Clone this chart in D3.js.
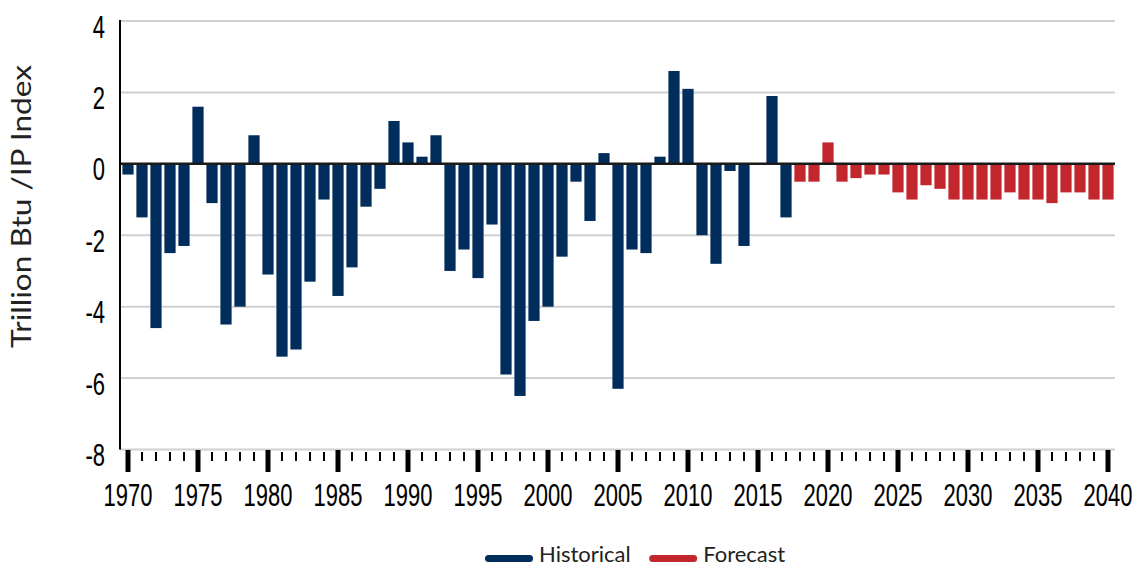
<!DOCTYPE html>
<html>
<head>
<meta charset="utf-8">
<script src="https://cdn.jsdelivr.net/npm/d3@7/dist/d3.min.js"></script>
<style>
  html, body { margin: 0; padding: 0; background: #fff; }
  svg { display: block; }
</style>
</head>
<body>
<svg id="chart" width="1138" height="567"></svg>
<script>
// ---- data ----
const histYears = d3.range(1970, 2018);
const histValues = [
  -0.3, -1.5, -4.6, -2.5, -2.3, 1.6, -1.1, -4.5, -4.0, 0.8,
  -3.1, -5.4, -5.2, -3.3, -1.0, -3.7, -2.9, -1.2, -0.7, 1.2,
  0.6, 0.2, 0.8, -3.0, -2.4, -3.2, -1.7, -5.9, -6.5, -4.4,
  -4.0, -2.6, -0.5, -1.6, 0.3, -6.3, -2.4, -2.5, 0.2, 2.6,
  2.1, -2.0, -2.8, -0.2, -2.3, 0.0, 1.9, -1.5
];
const fcYears = d3.range(2018, 2041);
const fcValues = [
  -0.5, -0.5, 0.6, -0.5, -0.4, -0.3, -0.3, -0.8, -1.0, -0.6,
  -0.7, -1.0, -1.0, -1.0, -1.0, -0.8, -1.0, -1.0, -1.1, -0.8,
  -0.8, -1.0, -1.0
];
const yTicks = [4, 2, 0, -2, -4, -6, -8];
const xLabelYears = d3.range(1970, 2041, 5);
const seriesNames = ["Historical", "Forecast"];
const seriesColors = ["#002d5c", "#c1272d"];
const yTitle = "Trillion Btu /IP Index";

// ---- chart ----
(function () {
const svg = d3.select("#chart");
const plotLeft = 120, plotRight = 1115, plotTop = 21, plotBottom = 449.5;
const axisFont = "'Liberation Sans', Arial, sans-serif";
const narrow = "scale(0.72,1)";

const allYears = d3.range(1970, 2041);
const x = d3.scaleBand().domain(allYears).range([121, 1115]).paddingInner(0.2).paddingOuter(0.1);
const y = d3.scaleLinear().domain([-8, 4]).range([plotBottom, plotTop]);

// gridlines
svg.append("g").selectAll("line")
  .data(yTicks.filter(d => d !== 0))
  .join("line")
  .attr("x1", plotLeft).attr("x2", plotRight)
  .attr("y1", d => y(d)).attr("y2", d => y(d))
  .attr("stroke", "#d0d0d0").attr("stroke-width", 2);

// bars
const barData = histYears.map((yr, i) => ({ year: yr, value: histValues[i], s: 0 }))
  .concat(fcYears.map((yr, i) => ({ year: yr, value: fcValues[i], s: 1 })));

svg.append("g").selectAll("rect")
  .data(barData)
  .join("rect")
  .attr("x", d => x(d.year))
  .attr("width", x.bandwidth())
  .attr("y", d => Math.min(y(d.value), y(0)))
  .attr("height", d => Math.abs(y(d.value) - y(0)))
  .attr("fill", d => seriesColors[d.s]);

// zero line
svg.append("line")
  .attr("x1", plotLeft).attr("x2", plotRight)
  .attr("y1", y(0)).attr("y2", y(0))
  .attr("stroke", "#1a1a1a").attr("stroke-width", 2.5);

// y axis line
svg.append("line")
  .attr("x1", plotLeft).attr("x2", plotLeft)
  .attr("y1", plotTop - 1).attr("y2", plotBottom)
  .attr("stroke", "#000").attr("stroke-width", 2);

// y tick labels
const yAxis = d3.axisLeft(y).tickValues(yTicks).tickSize(0).tickPadding(0).tickFormat(d => String(d));
const yg = svg.append("g").attr("transform", "translate(105,0)").call(yAxis);
yg.select(".domain").remove();
yg.selectAll("text")
  .attr("font-family", axisFont)
  .attr("font-size", 30.5).attr("fill", "#000")
  .attr("stroke", "#000").attr("stroke-width", 0.12)
  .attr("dy", null)
  .attr("y", 16).attr("x", 0).attr("text-anchor", "end")
  .attr("transform", narrow);

// x ticks (major every 5 years, minor every year)
const cx = d => x(d) + x.bandwidth() / 2;
svg.append("g").selectAll("line")
  .data(allYears)
  .join("line")
  .attr("x1", cx).attr("x2", cx)
  .attr("y1", d => d % 5 === 0 ? 450 : 452)
  .attr("y2", d => d % 5 === 0 ? 472 : 461)
  .attr("stroke", "#000")
  .attr("stroke-width", d => d % 5 === 0 ? 5 : 2);

// x tick labels
const xAxis = d3.axisBottom(x).tickValues(xLabelYears).tickSize(0).tickPadding(0).tickFormat(d => String(d));
const xg = svg.append("g").call(xAxis);
xg.select(".domain").remove();
xg.selectAll("text")
  .attr("font-family", axisFont)
  .attr("font-size", 30.5).attr("fill", "#000")
  .attr("stroke", "#000").attr("stroke-width", 0.12)
  .attr("dy", null).attr("y", 506)
  .attr("transform", narrow);

// y title
svg.append("text")
  .attr("transform", "translate(31,206.5) rotate(-90)")
  .attr("text-anchor", "middle")
  .attr("font-family", "Lato, 'Noto Sans', sans-serif")
  .attr("font-size", 26)
  .attr("textLength", 283)
  .attr("lengthAdjust", "spacingAndGlyphs")
  .attr("fill", "#222")
  .text(yTitle);

// legend
const legendFont = "Lato, 'Noto Sans', sans-serif";
const lg = svg.append("g");
let lx = 488.5;
seriesNames.forEach((name, i) => {
  lg.append("line")
    .attr("x1", lx).attr("x2", lx + 41)
    .attr("y1", 558.5).attr("y2", 558.5)
    .attr("stroke", seriesColors[i]).attr("stroke-width", 7)
    .attr("stroke-linecap", "round");
  const t = lg.append("text")
    .attr("x", lx + 50.5).attr("y", 562)
    .attr("font-family", legendFont).attr("font-size", 22)
    .attr("fill", "#222")
    .text(name);
  lx = lx + 50.5 + t.node().getComputedTextLength() + 22;
});
})();
</script>
</body>
</html>
